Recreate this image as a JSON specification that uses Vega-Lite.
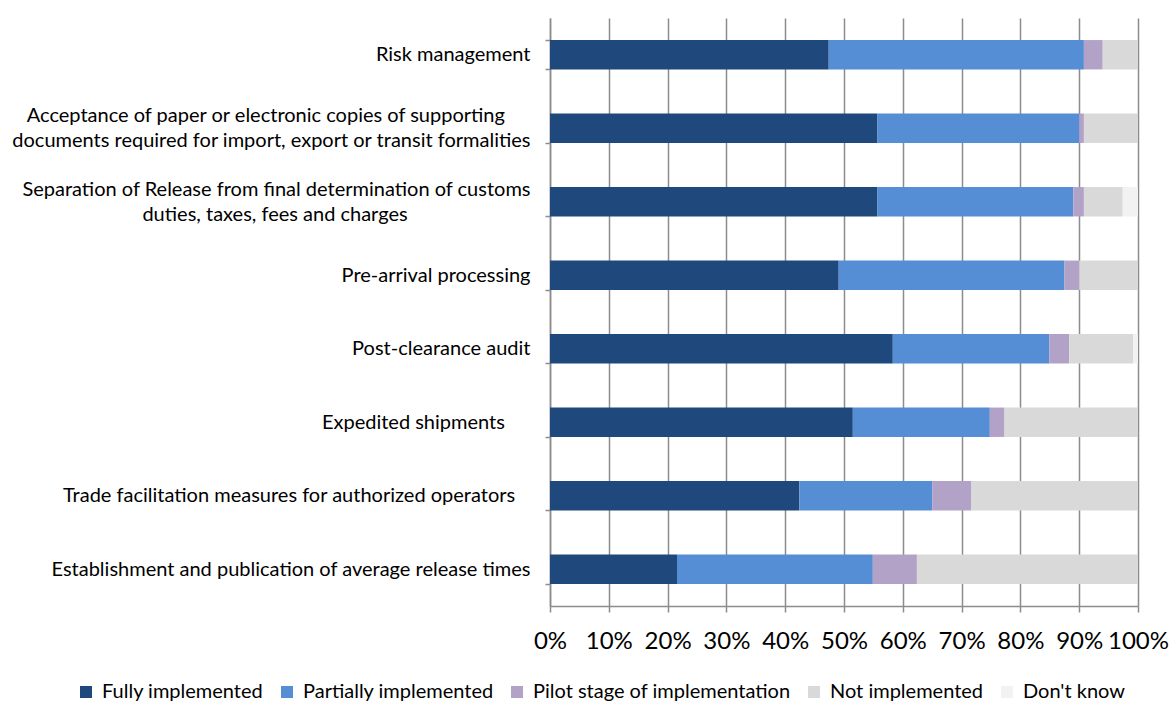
{
  "$schema": "https://vega.github.io/schema/vega-lite/v6.json",
  "autosize": {"type": "none"},
  "width": 588,
  "height": 588,
  "padding": {"left": 550, "top": 18, "right": 32, "bottom": 96},
  "background": "white",
  "data": {
    "values": [
      {"category": "Risk management", "status": "Fully implemented", "value": 47.4},
      {"category": "Risk management", "status": "Partially implemented", "value": 43.4},
      {"category": "Risk management", "status": "Pilot stage of implementation", "value": 3.2},
      {"category": "Risk management", "status": "Not implemented", "value": 6.0},
      {"category": "Acceptance of paper or electronic copies of supporting documents required for import, export or transit formalities", "status": "Fully implemented", "value": 55.7},
      {"category": "Acceptance of paper or electronic copies of supporting documents required for import, export or transit formalities", "status": "Partially implemented", "value": 34.3},
      {"category": "Acceptance of paper or electronic copies of supporting documents required for import, export or transit formalities", "status": "Pilot stage of implementation", "value": 0.8},
      {"category": "Acceptance of paper or electronic copies of supporting documents required for import, export or transit formalities", "status": "Not implemented", "value": 9.2},
      {"category": "Separation of Release from final determination of customs duties, taxes, fees and charges", "status": "Fully implemented", "value": 55.7},
      {"category": "Separation of Release from final determination of customs duties, taxes, fees and charges", "status": "Partially implemented", "value": 33.3},
      {"category": "Separation of Release from final determination of customs duties, taxes, fees and charges", "status": "Pilot stage of implementation", "value": 1.8},
      {"category": "Separation of Release from final determination of customs duties, taxes, fees and charges", "status": "Not implemented", "value": 6.6},
      {"category": "Separation of Release from final determination of customs duties, taxes, fees and charges", "status": "Don't know", "value": 2.6},
      {"category": "Pre-arrival processing", "status": "Fully implemented", "value": 49.1},
      {"category": "Pre-arrival processing", "status": "Partially implemented", "value": 38.4},
      {"category": "Pre-arrival processing", "status": "Pilot stage of implementation", "value": 2.5},
      {"category": "Pre-arrival processing", "status": "Not implemented", "value": 10.0},
      {"category": "Post-clearance audit", "status": "Fully implemented", "value": 58.3},
      {"category": "Post-clearance audit", "status": "Partially implemented", "value": 26.6},
      {"category": "Post-clearance audit", "status": "Pilot stage of implementation", "value": 3.4},
      {"category": "Post-clearance audit", "status": "Not implemented", "value": 10.9},
      {"category": "Post-clearance audit", "status": "Don't know", "value": 0.8},
      {"category": "Expedited shipments", "status": "Fully implemented", "value": 51.5},
      {"category": "Expedited shipments", "status": "Partially implemented", "value": 23.3},
      {"category": "Expedited shipments", "status": "Pilot stage of implementation", "value": 2.5},
      {"category": "Expedited shipments", "status": "Not implemented", "value": 22.7},
      {"category": "Trade facilitation measures for authorized operators", "status": "Fully implemented", "value": 42.4},
      {"category": "Trade facilitation measures for authorized operators", "status": "Partially implemented", "value": 22.6},
      {"category": "Trade facilitation measures for authorized operators", "status": "Pilot stage of implementation", "value": 6.6},
      {"category": "Trade facilitation measures for authorized operators", "status": "Not implemented", "value": 28.4},
      {"category": "Establishment and publication of average release times", "status": "Fully implemented", "value": 21.6},
      {"category": "Establishment and publication of average release times", "status": "Partially implemented", "value": 33.3},
      {"category": "Establishment and publication of average release times", "status": "Pilot stage of implementation", "value": 7.5},
      {"category": "Establishment and publication of average release times", "status": "Not implemented", "value": 37.6}
    ]
  },
  "mark": {"type": "bar"},
  "encoding": {
    "y": {
      "field": "category",
      "type": "nominal",
      "sort": null,
      "title": null,
      "scale": {"paddingInner": 0.6, "paddingOuter": 0.3},
      "axis": {
        "domainColor": "#8c8c8c",
        "domainWidth": 1.5,
        "tickColor": "#8c8c8c",
        "tickWidth": 1.5,
        "tickSize": 5,
        "tickBand": "extent",
        "grid": false,
        "labelFont": "Lato",
        "labelFontSize": 20,
        "labelColor": "#000000",
        "labelLimit": 0,
        "labelPadding": 15,
        "labelLineHeight": 12.5,
        "labelOffset": -12.5,
        "labelOverlap": false,
        "labelExpr": "datum.value == 'Acceptance of paper or electronic copies of supporting documents required for import, export or transit formalities' ? ['Acceptance of paper or electronic copies of supporting\u00a0\u00a0\u00a0\u00a0\u00a0\u200b', '\u00a0\u200b', 'documents required for import, export or transit formalities'] : datum.value == 'Separation of Release from final determination of customs duties, taxes, fees and charges' ? ['Separation of Release from final determination of customs', '\u00a0\u200b', 'duties, taxes, fees and charges\u00a0\u00a0\u00a0\u00a0\u00a0\u00a0\u00a0\u00a0\u00a0\u00a0\u00a0\u00a0\u00a0\u00a0\u00a0\u00a0\u00a0\u00a0\u00a0\u00a0\u00a0\u00a0\u00a0\u00a0\u200b'] : datum.value == 'Expedited shipments' ? ['', 'Expedited shipments\u00a0\u00a0\u00a0\u00a0\u00a0\u200b'] : datum.value == 'Trade facilitation measures for authorized operators' ? ['', 'Trade facilitation measures for authorized operators\u00a0\u00a0\u00a0\u200b'] : ['', datum.label]"
      }
    },
    "x": {
      "field": "value",
      "type": "quantitative",
      "stack": "normalize",
      "title": null,
      "scale": {"domain": [0, 1], "nice": false},
      "axis": {
        "values": [0, 0.1, 0.2, 0.3, 0.4, 0.5, 0.6, 0.7, 0.8, 0.9, 1],
        "format": ".0%",
        "grid": true,
        "gridColor": "#8c8c8c",
        "gridWidth": 1.5,
        "domainColor": "#8c8c8c",
        "domainWidth": 1.5,
        "tickColor": "#8c8c8c",
        "tickWidth": 1.5,
        "tickSize": 6,
        "labelFont": "Lato",
        "labelFontSize": 24,
        "labelColor": "#000000",
        "labelPadding": 17,
        "labelFlush": false,
        "labelOverlap": false
      }
    },
    "color": {
      "field": "status",
      "type": "nominal",
      "sort": ["Fully implemented", "Partially implemented", "Pilot stage of implementation", "Not implemented", "Don't know"],
      "scale": {
        "domain": ["Fully implemented", "Partially implemented", "Pilot stage of implementation", "Not implemented", "Don't know"],
        "range": ["#1F497D", "#558ED5", "#B3A2C7", "#D9D9D9", "#F2F2F2"]
      },
      "legend": {
        "title": null,
        "orient": "none",
        "direction": "horizontal",
        "legendX": -474,
        "legendY": 664,
        "symbolType": "square",
        "symbolSize": 144,
        "symbolStrokeWidth": 0,
        "labelFont": "Lato",
        "labelFontSize": 20,
        "labelLimit": 0,
        "labelColor": "#000000",
        "columnPadding": 13,
        "labelOffset": 6
      }
    },
    "order": {"field": "category"}
  },
  "config": {"view": {"stroke": null}}
}
